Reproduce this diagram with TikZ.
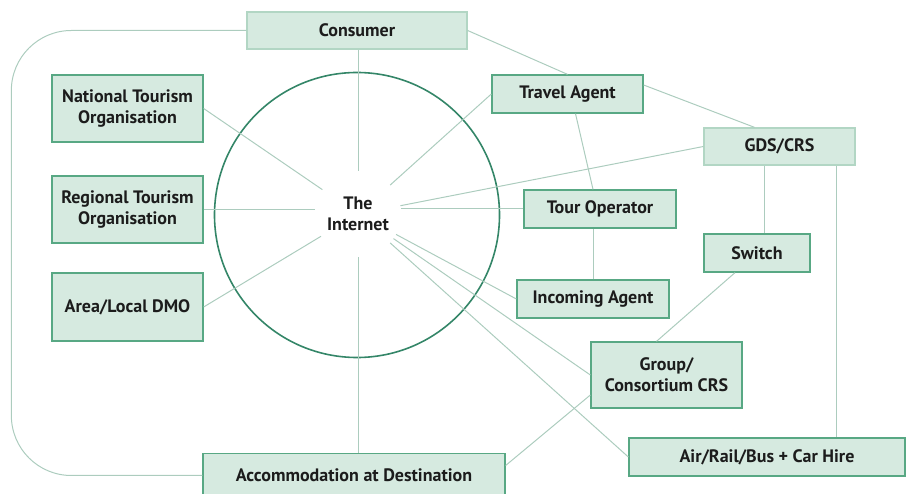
\documentclass[tikz,border=0pt]{standalone}
\usepackage{fontspec}
\setmainfont{PT Sans}
\definecolor{boxfill}{RGB}{214,234,224}
\definecolor{boxedge}{RGB}{88,168,132}
\definecolor{paleedge}{RGB}{178,214,196}
\definecolor{linkcol}{RGB}{172,204,190}
\definecolor{ringcol}{RGB}{52,134,104}
\definecolor{inkcol}{RGB}{28,28,28}
\begin{document}
\begin{tikzpicture}[x=1pt,y=-1pt,
  unit/.style={draw=boxedge, fill=boxfill, line width=1.3pt, inner sep=0pt,
    align=center, text=inkcol, font=\fontsize{18}{21}\selectfont\bfseries},
  paleunit/.style={unit, draw=paleedge},
  link/.style={draw=linkcol, line width=1pt},
  ring/.style={draw=ringcol, line width=1.6pt}]
\useasboundingbox (0,0) rectangle (906,494);

% the hub
\draw[ring] (357,215) circle[radius=142.5];
\node[circle, minimum size=86pt, inner sep=0pt, align=center, text=inkcol,
  font=\fontsize{18}{21}\selectfont\bfseries] (internet) at (358,214) {The\\Internet};

% boxes
\node[paleunit, minimum width=220pt, minimum height=37pt] (consumer) at (357,30.5) {Consumer};
\node[unit, minimum width=151pt, minimum height=67pt] (nto) at (127.5,108.5) {National Tourism\\Organisation};
\node[unit, minimum width=151pt, minimum height=67pt] (rto) at (127.5,209.5) {Regional Tourism\\Organisation};
\node[unit, minimum width=151pt, minimum height=68pt] (dmo) at (127.5,307) {Area/Local DMO};
\node[unit, minimum width=151pt, minimum height=38pt] (travel) at (567.5,94) {Travel Agent};
\node[paleunit, minimum width=151pt, minimum height=37pt] (gds) at (779.5,146.5) {GDS/CRS};
\node[unit, minimum width=152pt, minimum height=38pt] (tour) at (600,209) {Tour Operator};
\node[unit, minimum width=106pt, minimum height=38pt] (switch) at (757,253) {Switch};
\node[unit, minimum width=152pt, minimum height=38pt] (incoming) at (593,299) {Incoming Agent};
\node[unit, minimum width=151pt, minimum height=66pt] (group) at (666.5,375) {Group/\\Consortium CRS};
\node[unit, minimum width=276pt, minimum height=38pt] (air) at (767,457) {Air/Rail/Bus + Car Hire};
\node[unit, minimum width=302pt, minimum height=44pt] (accom) at (354,475.5) {Accommodation at Destination};

% spokes from the internet
\draw[link] (internet) -- (internet |- consumer.south);
\draw[link] (internet) -- (internet |- accom.north);
\draw[link] (internet) -- (nto.east);
\draw[link] (rto.east) -- (rto.east -| internet.west);
\draw[link] (internet) -- (dmo.east);
\draw[link] (internet) -- (travel.west);
\draw[link] (internet) -- (gds.west);
\draw[link] (tour.west) -- (tour.west -| internet.east);
\draw[link] (internet) -- (incoming.west);
\draw[link] (internet) -- (group.west);
\draw[link] (internet) -- (air.west);

% trade links
\draw[link] (consumer.east) -- (travel.north);
\draw[link] ([yshift=9pt]travel.east) -- ([xshift=-25pt]gds.north);
\draw[link] ([xshift=8pt]travel.south) -- ([xshift=-7pt]tour.north);
\draw[link] (incoming.north) -- (incoming.north |- tour.south);
\draw[link] ([xshift=7pt]switch.north) -- ([xshift=7pt]switch.north |- gds.south);
\draw[link] ([xshift=-19pt]gds.south east) -- ([xshift=-19pt]gds.south east |- air.north);
\draw[link] ([xshift=-22pt]switch.south) -- ([xshift=-10pt]group.north);
\draw[link] ([yshift=-20pt]group.west) -- ([yshift=10pt]accom.east);

% direct booking loop
\draw[link, rounded corners=60pt] (consumer.west) -| ([xshift=-191pt]accom.west) -- (accom.west);
\end{tikzpicture}
\end{document}
